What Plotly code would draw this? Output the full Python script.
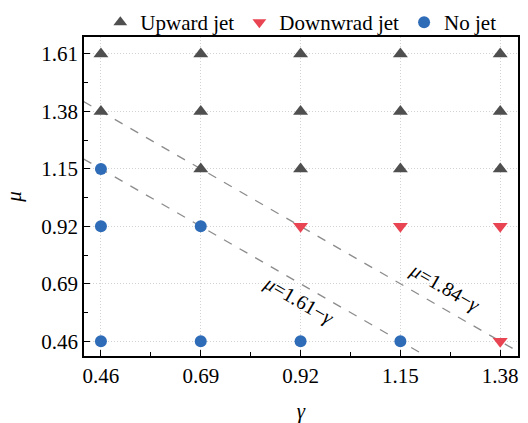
import plotly.graph_objects as go

ticks = [0.46, 0.69, 0.92, 1.15, 1.38, 1.61]
tick_labels = ["0.46", "0.69", "0.92", "1.15", "1.38", "1.61"]

up_gamma = [0.46, 0.69, 0.92, 1.15, 1.38, 0.46, 0.69, 0.92, 1.15, 1.38, 0.69, 0.92, 1.15, 1.38]
up_mu = [1.61, 1.61, 1.61, 1.61, 1.61, 1.38, 1.38, 1.38, 1.38, 1.38, 1.15, 1.15, 1.15, 1.15]

down_gamma = [0.92, 1.15, 1.38, 1.38]
down_mu = [0.92, 0.92, 0.92, 0.46]

no_gamma = [0.46, 0.46, 0.69, 0.46, 0.69, 0.92, 1.15]
no_mu = [1.15, 0.92, 0.92, 0.46, 0.46, 0.46, 0.46]

line_gamma = [0.42, 1.42]
line1_const = 1.61
line2_const = 1.84

fig = go.Figure()
for c in (line1_const, line2_const):
    fig.add_trace(go.Scatter(x=line_gamma, y=[c - g for g in line_gamma], mode="lines",
                             line=dict(color="#8c8c8c", width=1.3, dash="dash"),
                             showlegend=False, hoverinfo="skip", cliponaxis=True))

fig.add_trace(go.Scatter(x=up_gamma, y=up_mu, mode="markers", name="Upward jet",
                         marker=dict(symbol="triangle-up", size=13, color="#4f4f4f")))
fig.add_trace(go.Scatter(x=down_gamma, y=down_mu, mode="markers", name="Downwrad jet",
                         marker=dict(symbol="triangle-down", size=13, color="#e84452")))
fig.add_trace(go.Scatter(x=no_gamma, y=no_mu, mode="markers", name="No jet",
                         marker=dict(symbol="circle", size=12, color="#2f6cb8")))

font = "Times New Roman"
axis_common = dict(
    tickmode="array", tickvals=ticks, ticktext=tick_labels,
    ticks="inside", ticklen=6, tickwidth=1.2, tickcolor="black",
    showline=True, linecolor="black", linewidth=1.5, mirror=True,
    showgrid=True, gridcolor="#d2d2d2", griddash="1px,2px", gridwidth=1,
    zeroline=False,
    tickfont=dict(family=font, size=21, color="black"),
    minor=dict(ticks="inside", ticklen=4, tickcolor="black", dtick=0.115, tick0=0.46, showgrid=False),
)

fig.update_xaxes(range=[0.421, 1.421], title=dict(text="<i>γ</i>", font=dict(family=font, size=21, color="black"), standoff=16), **axis_common)
fig.update_yaxes(range=[0.401, 1.678], title=dict(text="<i>μ</i>", font=dict(family=font, size=21, color="black"), standoff=14), **axis_common)

fig.add_annotation(x=0.916, y=0.622, text="<i>μ</i>=1.61−<i>γ</i>", showarrow=False, textangle=30,
                   font=dict(family=font, size=20, color="black"))
fig.add_annotation(x=1.252, y=0.674, text="<i>μ</i>=1.84−<i>γ</i>", showarrow=False, textangle=30,
                   font=dict(family=font, size=20, color="black"))

fig.update_layout(
    width=528, height=423,
    font=dict(family=font),
    margin=dict(l=84, r=10, t=37, b=67, autoexpand=False),
    plot_bgcolor="white", paper_bgcolor="white",
    legend=dict(orientation="h", xref="container", x=0.19, xanchor="left",
                yref="container", y=0.995, yanchor="top",
                font=dict(family=font, size=21, color="black"), itemsizing="constant",
                bgcolor="rgba(0,0,0,0)", tracegroupgap=0),
)

fig.write_html("out.html")
